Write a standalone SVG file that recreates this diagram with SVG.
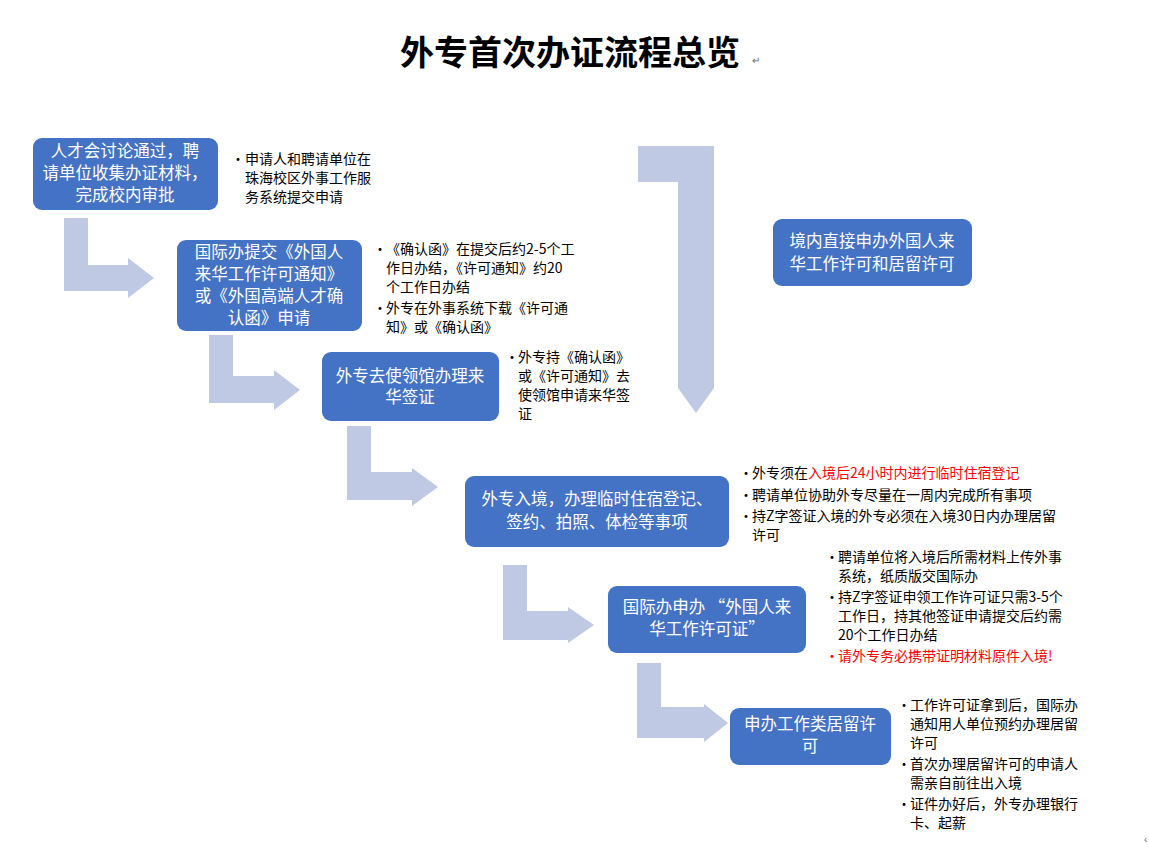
<svg xmlns="http://www.w3.org/2000/svg" width="1149" height="848" viewBox="0 0 1149 848">
<style>
.n{fill:#4472C4}
.nt{fill:#fff;font-family:"Noto Sans CJK SC","Liberation Sans",sans-serif;font-size:16.5px;text-anchor:middle}
.b{fill:#000;font-family:"Noto Sans CJK SC","Liberation Sans",sans-serif;font-size:14px}
.r{fill:#FF0000}
.a{fill:#BFC9E4}
</style>
<rect width="1149" height="848" fill="#fff"/>
<text x="570" y="65" text-anchor="middle" font-family="Noto Sans CJK SC,sans-serif" font-size="34" font-weight="bold">外专首次办证流程总览</text>
<text x="752" y="64" font-family="Liberation Sans,sans-serif" font-size="10" fill="#666">↵</text>
<text x="1144" y="843" font-family="Liberation Sans,sans-serif" font-size="10" fill="#666">‹</text>
<g id="connectors">
<path class="a" d="M64,218H88V265H128V258L154,278L128,298V291H64Z"/>
<path class="a" d="M209,335H233V376H274V370L300,390L274,410V403H209Z"/>
<path class="a" d="M347,426H371V472H412V468L438,487L412,506V500H347Z"/>
<path class="a" d="M503,565H527V611H568V607L594,625L568,643V640H503Z"/>
<path class="a" d="M637,663H661V707H704V704L728,723L704,742V738H637Z"/>
<path class="a" d="M638,146H714V388L696,413L678,388V182H638Z"/>
</g>
<g id="n1"><rect class="n" x="33" y="138" width="185" height="72" rx="9"/>
<text class="nt"><tspan x="125" y="157">人才会讨论通过，聘</tspan><tspan x="125" y="179">请单位收集办证材料，</tspan><tspan x="125" y="201">完成校内审批</tspan></text></g>
<g id="n1t"><text class="b"><tspan x="231" y="164">•</tspan><tspan x="245" y="164">申请人和聘请单位在</tspan><tspan x="245" y="183">珠海校区外事工作服</tspan><tspan x="245" y="202">务系统提交申请</tspan></text></g>
<g id="n2"><rect class="n" x="177" y="240" width="185" height="91" rx="9"/>
<text class="nt"><tspan x="269" y="258">国际办提交《外国人</tspan><tspan x="269" y="280">来华工作许可通知》</tspan><tspan x="269" y="302">或《外国高端人才确</tspan><tspan x="269" y="324">认函》申请</tspan></text></g>
<g id="n2t"><text class="b"><tspan x="373" y="254">•</tspan><tspan x="386" y="254">《确认函》在提交后约2-5个工</tspan><tspan x="386" y="273">作日办结，《许可通知》约20</tspan><tspan x="386" y="292">个工作日办结</tspan><tspan x="373" y="313">•</tspan><tspan x="386" y="313">外专在外事系统下载《许可通</tspan><tspan x="386" y="332">知》或《确认函》</tspan></text></g>
<g id="n3"><rect class="n" x="322" y="352" width="177" height="69" rx="9"/>
<text class="nt"><tspan x="410" y="382">外专去使领馆办理来</tspan><tspan x="410" y="403">华签证</tspan></text></g>
<g id="n3t"><text class="b"><tspan x="505" y="362">•</tspan><tspan x="518" y="362">外专持《确认函》</tspan><tspan x="518" y="381">或《许可通知》去</tspan><tspan x="518" y="400">使领馆申请来华签</tspan><tspan x="518" y="419">证</tspan></text></g>
<g id="n4"><rect class="n" x="465" y="476" width="264" height="71" rx="9"/>
<text class="nt"><tspan x="597" y="505">外专入境，办理临时住宿登记、</tspan><tspan x="597" y="528">签约、拍照、体检等事项</tspan></text></g>
<g id="n4t"><text class="b"><tspan x="739" y="478">•</tspan><tspan x="752" y="478">外专须在<tspan class="r">入境后24小时内进行临时住宿登记</tspan></tspan><tspan x="739" y="500">•</tspan><tspan x="752" y="500">聘请单位协助外专尽量在一周内完成所有事项</tspan><tspan x="739" y="521">•</tspan><tspan x="752" y="521">持Z字签证入境的外专必须在入境30日内办理居留</tspan><tspan x="752" y="540">许可</tspan></text></g>
<g id="n5"><rect class="n" x="608" y="586" width="198" height="67" rx="9"/>
<text class="nt"><tspan x="707" y="613">国际办申办 “外国人来</tspan><tspan x="707" y="635">华工作许可证”</tspan></text></g>
<g id="n5t"><text class="b"><tspan x="825" y="562">•</tspan><tspan x="838" y="562">聘请单位将入境后所需材料上传外事</tspan><tspan x="838" y="581">系统，纸质版交国际办</tspan><tspan x="825" y="602">•</tspan><tspan x="838" y="602">持Z字签证申领工作许可证只需3-5个</tspan><tspan x="838" y="621">工作日，持其他签证申请提交后约需</tspan><tspan x="838" y="640">20个工作日办结</tspan><tspan class="r" x="825" y="661">•</tspan><tspan class="r" x="838" y="661">请外专务必携带证明材料原件入境!</tspan></text></g>
<g id="n6"><rect class="n" x="730" y="708" width="161" height="57" rx="9"/>
<text class="nt"><tspan x="810" y="730">申办工作类居留许</tspan><tspan x="810" y="752">可</tspan></text></g>
<g id="n6t"><text class="b"><tspan x="897" y="710">•</tspan><tspan x="910" y="710">工作许可证拿到后，国际办</tspan><tspan x="910" y="729">通知用人单位预约办理居留</tspan><tspan x="910" y="748">许可</tspan><tspan x="897" y="769">•</tspan><tspan x="910" y="769">首次办理居留许可的申请人</tspan><tspan x="910" y="788">需亲自前往出入境</tspan><tspan x="897" y="809">•</tspan><tspan x="910" y="809">证件办好后，外专办理银行</tspan><tspan x="910" y="828">卡、起薪</tspan></text></g>
<g id="n7"><rect class="n" x="773" y="219" width="199" height="67" rx="9"/>
<text class="nt"><tspan x="872" y="247">境内直接申办外国人来</tspan><tspan x="872" y="270">华工作许可和居留许可</tspan></text></g>
</svg>
